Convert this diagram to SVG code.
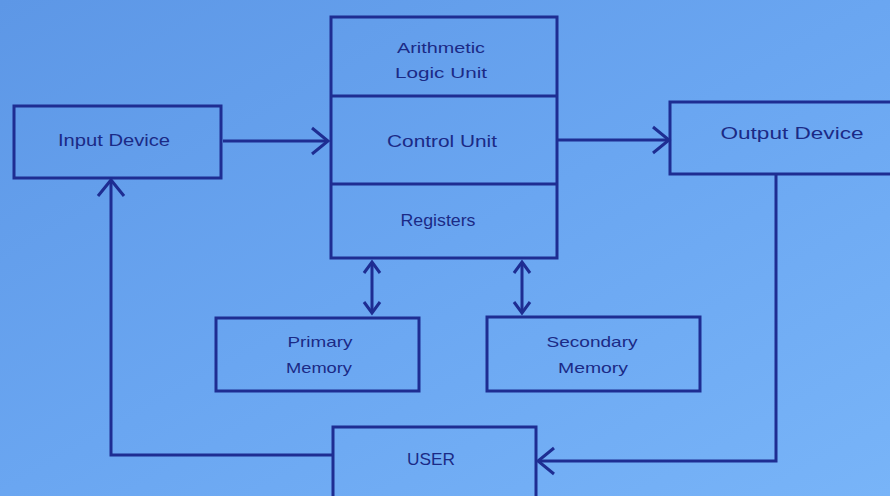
<svg xmlns="http://www.w3.org/2000/svg" width="890" height="496" viewBox="0 0 890 496">
  <defs>
    <linearGradient id="paper" x1="0" y1="0" x2="1" y2="1">
      <stop offset="0" stop-color="#5d97e6"/>
      <stop offset="0.5" stop-color="#6aa6f1"/>
      <stop offset="1" stop-color="#78b4f8"/>
    </linearGradient>
    <marker id="head" markerUnits="userSpaceOnUse" markerWidth="30" markerHeight="30" viewBox="-18 -15 20 30" refX="0" refY="0" orient="auto">
      <path d="M-16,-13 L0,0 L-16,13" fill="none" stroke="#1e2d92" stroke-width="3"/>
    </marker>
    <marker id="small" markerUnits="userSpaceOnUse" markerWidth="24" markerHeight="24" viewBox="-14 -12 16 24" refX="0" refY="0" orient="auto-start-reverse">
      <path d="M-11,-8 L0,0 L-11,8" fill="none" stroke="#1e2d92" stroke-width="3"/>
    </marker>
  </defs>
  <style>
    .box { fill: none; stroke: #1e2d92; stroke-width: 3; }
    .wire { fill: none; stroke: #1e2d92; stroke-width: 3; }
    .lbl { font-family: "Liberation Sans", Arial, sans-serif; fill: #1b2a86; text-anchor: middle; }
  </style>

  <rect width="890" height="496" fill="url(#paper)"/>

  <g id="cpu">
    <rect class="box" x="331" y="17" width="226" height="241"/>
    <line class="box" x1="331" y1="96" x2="557" y2="96"/>
    <line class="box" x1="331" y1="184" x2="557" y2="184"/>
    <text class="lbl" x="441" y="53" font-size="15" textLength="88" lengthAdjust="spacingAndGlyphs">Arithmetic</text>
    <text class="lbl" x="441" y="78" font-size="15" textLength="92" lengthAdjust="spacingAndGlyphs">Logic Unit</text>
    <text class="lbl" x="442" y="147" font-size="17" textLength="110" lengthAdjust="spacingAndGlyphs">Control Unit</text>
    <text class="lbl" x="438" y="226" font-size="16" textLength="75" lengthAdjust="spacingAndGlyphs">Registers</text>
  </g>

  <g id="input">
    <rect class="box" x="14" y="106" width="207" height="72"/>
    <text class="lbl" x="114" y="146" font-size="17" textLength="112" lengthAdjust="spacingAndGlyphs">Input Device</text>
  </g>

  <g id="output">
    <rect class="box" x="670" y="102" width="240" height="72"/>
    <text class="lbl" x="792" y="139" font-size="17" textLength="143" lengthAdjust="spacingAndGlyphs">Output Device</text>
  </g>

  <g id="primary">
    <rect class="box" x="216" y="318" width="203" height="73"/>
    <text class="lbl" x="320" y="347" font-size="15" textLength="65" lengthAdjust="spacingAndGlyphs">Primary</text>
    <text class="lbl" x="319" y="373" font-size="15" textLength="66" lengthAdjust="spacingAndGlyphs">Memory</text>
  </g>

  <g id="secondary">
    <rect class="box" x="487" y="317" width="213" height="74"/>
    <text class="lbl" x="592" y="347" font-size="15" textLength="91" lengthAdjust="spacingAndGlyphs">Secondary</text>
    <text class="lbl" x="593" y="373" font-size="15" textLength="70" lengthAdjust="spacingAndGlyphs">Memory</text>
  </g>

  <g id="user">
    <rect class="box" x="333" y="427" width="203" height="80"/>
    <text class="lbl" x="431" y="465" font-size="17" textLength="48" lengthAdjust="spacingAndGlyphs">USER</text>
  </g>

  <g id="connectors">
    <line class="wire" x1="223" y1="141" x2="328" y2="141" marker-end="url(#head)"/>
    <line class="wire" x1="558" y1="140" x2="669" y2="140" marker-end="url(#head)"/>
    <line class="wire" x1="372" y1="262" x2="372" y2="313" marker-start="url(#small)" marker-end="url(#small)"/>
    <line class="wire" x1="522" y1="262" x2="522" y2="313" marker-start="url(#small)" marker-end="url(#small)"/>
    <polyline class="wire" points="333,455 111,455 111,180" marker-end="url(#head)"/>
    <polyline class="wire" points="776,174 776,461 538,461" marker-end="url(#head)"/>
  </g>
</svg>
